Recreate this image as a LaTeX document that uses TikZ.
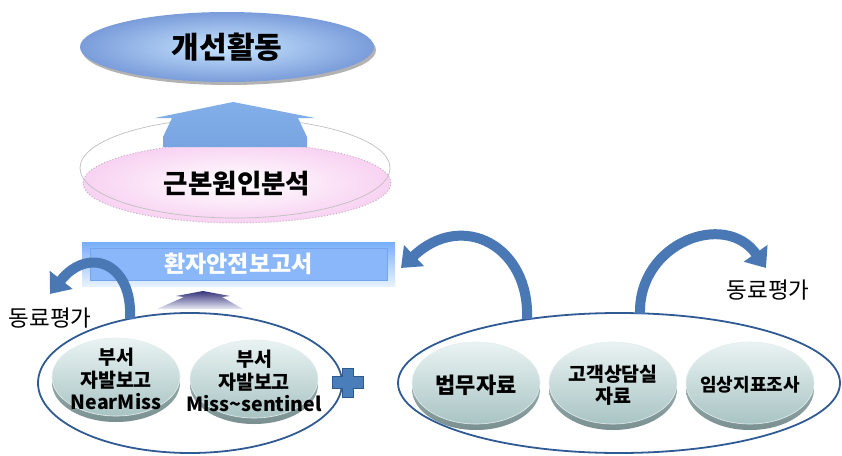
\documentclass[tikz,border=0pt]{standalone}
\usepackage{fontspec}
\newfontfamily\kr{Noto Sans CJK KR}
\usetikzlibrary{arrows.meta,shadows,shapes.geometric}
\definecolor{arrowblue}{HTML}{4A78B5}
\definecolor{ringblue}{HTML}{2F5A94}
\definecolor{diskhi}{HTML}{EAF3F3}
\definecolor{disklo}{HTML}{A9C4C4}
\definecolor{rimhi}{HTML}{B0C4C4}
\definecolor{rimlo}{HTML}{7A9090}
\definecolor{barfill}{HTML}{8AB6FA}
\definecolor{barline}{HTML}{74A4EE}
\definecolor{barhi}{HTML}{78AEF8}
\definecolor{pinkout}{HTML}{F8D2F2}
\definecolor{navy}{HTML}{34337A}
\definecolor{plusblue}{HTML}{4A7EBB}
\definecolor{plusline}{HTML}{2C5A8C}
% disk: x, y (face centre), x radius, y radius
\newcommand\mydisk[4]{%
  \shade[top color=rimhi, bottom color=rimlo] (#1,#2+6) ellipse [x radius=#3pt, y radius=#4pt];
  \shade[top color=diskhi, bottom color=disklo, draw=white!70!disklo, line width=0.6pt] (#1,#2) ellipse [x radius=#3pt, y radius=#4pt];}
\begin{document}
\begin{tikzpicture}[x=1pt,y=-1pt,
  disktext/.style={align=center, inner sep=0pt, font=\kr\bfseries\fontsize{19.5}{22.5}\selectfont},
  ring/.style={ellipse, draw=ringblue, line width=1.8pt, inner sep=0pt},
  curarrow/.style={draw=arrowblue, line width=10pt, -{Triangle[length=18pt,width=28pt]}},
  peer/.style={font=\kr\fontsize{22.5}{25}\selectfont}]
\useasboundingbox (0,0) rectangle (842,455);

% top ellipse
\node[ellipse, minimum width=294pt, minimum height=70pt, inner sep=0pt,
  inner color={rgb,255:red,200;green,230;blue,255}, outer color={rgb,255:red,122;green,156;blue,218},
  drop shadow={shadow xshift=2pt, shadow yshift=-3pt, opacity=0.3, fill=black},
  font=\kr\bfseries\fontsize{30}{33}\selectfont] (kaizen) at (227,47) {개선활동};

% root cause ellipse
\node[ellipse, minimum width=308pt, minimum height=80pt, inner sep=0pt,
  inner color=white, outer color=pinkout, draw={rgb,255:red,195;green,180;blue,195}, dotted, line width=1pt] (rca) at (237,183) {};
\draw[black!25, line width=0.7pt] (235,168) ellipse [x radius=155pt, y radius=50pt];
\node[font=\kr\bfseries\fontsize{26.5}{29}\selectfont] (rcatext) at (237,184) {근본원인분석};

% up arrow
\shade[top color={rgb,255:red,130;green,175;blue,232}, middle color={rgb,255:red,225;green,236;blue,252},
  bottom color={rgb,255:red,120;green,165;blue,225}]
  (233,102) -- (315,118) -- (298,118) -- (307,137) -- (307,147) -- (163,147) -- (163,137) -- (172,118) -- (155,118) -- cycle;

% report bar
\shade[top color=barhi, bottom color={rgb,255:red,232;green,242;blue,255}] (82,242) rectangle (395,286);
\node[rectangle, minimum width=297pt, minimum height=32pt, fill=barfill, draw=barline, line width=1pt,
  text=white, font=\kr\bfseries\fontsize{23}{26}\selectfont] (bar) at (238.5,264) {환자안전보고서};

% small dark arrow
\shade[top color=navy, bottom color={rgb,255:red,232;green,232;blue,245}]
  (203,291) -- (230,296) -- (222,297) -- (243,309) -- (157,309) -- (184,297) -- (176,296) -- cycle;

% left group
\node[ring, minimum width=304pt, minimum height=140pt] (leftring) at (190,383) {};
\mydisk{116}{377}{64}{39}
\node[disktext] (near) at (116,379) {부서\\자발보고\\NearMiss};
\mydisk{254}{379}{64}{39}
\node[disktext] (sent) at (254,381) {부서\\자발보고\\Miss\textasciitilde sentinel};

% plus
\filldraw[fill=plusblue, draw=plusline, line width=1pt]
  (342,368) -- (353,368) -- (353,376) -- (363,376) -- (363,388) -- (353,388) -- (353,397) -- (342,397)
  -- (342,388) -- (332,388) -- (332,376) -- (342,376) -- cycle;

% right group
\node[ring, minimum width=442pt, minimum height=140pt] (rightring) at (619,383) {};
\mydisk{476}{383}{64}{41}
\node[disktext, font=\kr\bfseries\fontsize{22}{24}\selectfont] (law) at (476,385) {법무자료};
\mydisk{613}{383}{64}{41}
\node[disktext] (cust) at (613,385) {고객상담실\\자료};
\mydisk{750}{383}{64}{41}
\node[disktext, font=\kr\bfseries\fontsize{18}{20}\selectfont] (clin) at (750,385) {임상지표조사};

% labels
\node[peer] (peerL) at (50,318) {동료평가};
\node[peer] (peerR) at (768,290) {동료평가};

% curved arrows
\coordinate (la1) at (130,319);
\coordinate (la2) at (50,294);
\coordinate (ma1) at (527,319);
\coordinate (ma2) at (401,268);
\coordinate (ra1) at (640,314);
\coordinate (ra2) at (766,268);
\draw[curarrow] (la1) .. controls (133,262) and (88,246) .. (la2);
\draw[curarrow] (ma1) .. controls (530,246) and (462,210) .. (ma2);
\draw[curarrow] (ra1) .. controls (638,243) and (725,210) .. (ra2);
\end{tikzpicture}
\end{document}
